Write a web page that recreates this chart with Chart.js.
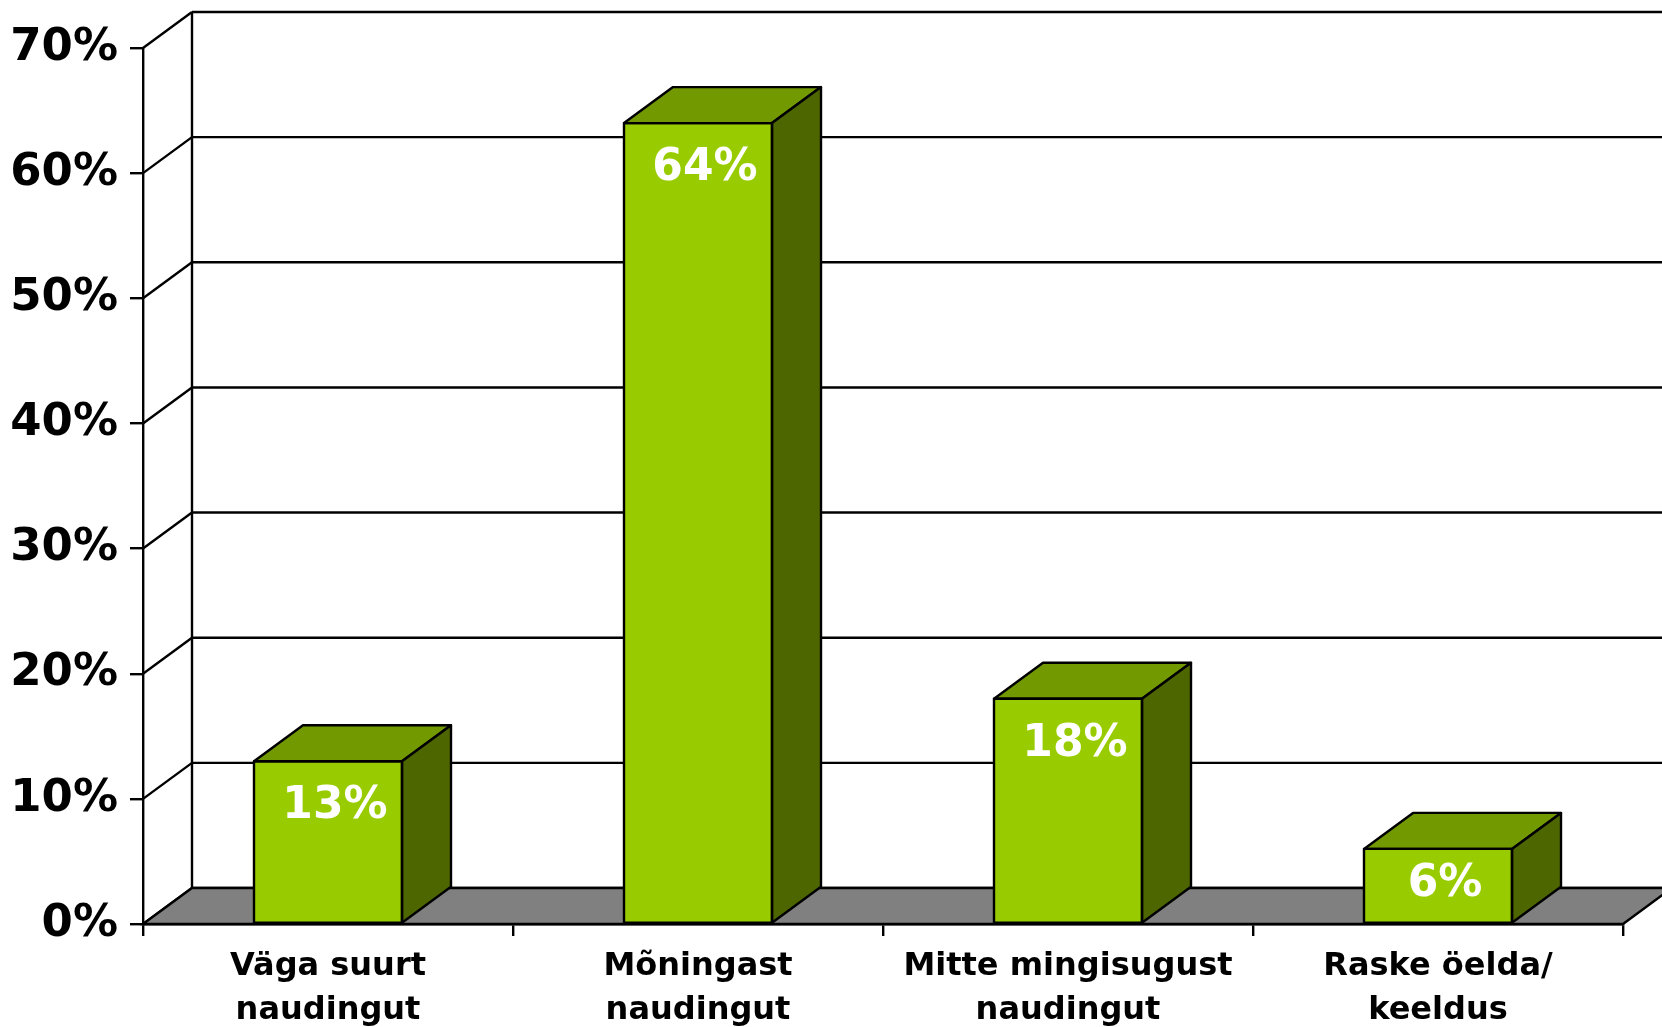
<!DOCTYPE html>
<html>
<head>
<meta charset="utf-8">
<script src="https://cdn.jsdelivr.net/npm/chart.js@4"></script>
<style>
    html, body { margin: 0; padding: 0; background: #fff; overflow: hidden; }
    #wrap { width: 1662px; height: 1027px; }
</style>
</head>
<body>
<div id="wrap"><canvas id="mainChart"></canvas></div>
<script>
const categories = [
    ["Väga suurt", "naudingut"],
    ["Mõningast", "naudingut"],
    ["Mitte mingisugust", "naudingut"],
    ["Raske öelda/", "keeldus"],
];
const values = [13, 64, 18, 6];
const percentTicks = [0, 10, 20, 30, 40, 50, 60, 70];

const FRONT = "#99CC00";
const TOP = "#739900";
const SIDE = "#4D6600";
const DX = 49, DY = -36;   // 3D depth offset
const LW = 2.4;

function line(ctx, x1, y1, x2, y2) {
    ctx.beginPath();
    ctx.moveTo(x1, y1);
    ctx.lineTo(x2, y2);
    ctx.stroke();
}

function poly(ctx, pts, fill) {
    ctx.beginPath();
    ctx.moveTo(pts[0][0], pts[0][1]);
    pts.slice(1).forEach(p => ctx.lineTo(p[0], p[1]));
    ctx.closePath();
    ctx.fillStyle = fill;
    ctx.fill();
    ctx.stroke();
}

const depthPlugin = {
    id: "depth",
    beforeDatasetsDraw(chart) {
        const { ctx, chartArea: a, scales: { y } } = chart;
        ctx.save();
        ctx.lineWidth = LW;
        ctx.strokeStyle = "#000";

        // back wall + diagonal grid lines
        percentTicks.forEach(v => {
            const py = y.getPixelForValue(v);
            line(ctx, a.left, py, a.left + DX, py + DY);
            line(ctx, a.left + DX, py + DY, a.right + DX, py + DY);
        });
        line(ctx, a.left + DX, y.getPixelForValue(70) + DY, a.left + DX, a.bottom + DY);

        // floor
        poly(ctx, [
            [a.left, a.bottom],
            [a.right, a.bottom],
            [a.right + DX, a.bottom + DY],
            [a.left + DX, a.bottom + DY],
        ], "#808080");
        ctx.restore();
    },
    afterDatasetsDraw(chart) {
        const { ctx } = chart;
        const meta = chart.getDatasetMeta(0);
        ctx.save();
        ctx.lineWidth = LW;
        ctx.strokeStyle = "#000";
        ctx.lineJoin = "round";
        meta.data.forEach((bar, i) => {
            const { x, y, base, width } = bar.getProps(["x", "y", "base", "width"], true);
            const x0 = x - width / 2, x1 = x + width / 2;
            poly(ctx, [[x0, y], [x1, y], [x1 + DX, y + DY], [x0 + DX, y + DY]], TOP);
            poly(ctx, [[x1, y], [x1 + DX, y + DY], [x1 + DX, base + DY], [x1, base]], SIDE);
            ctx.strokeRect(x0, y, width, base - y);

            // value label
            const cy = Math.min(y + 41, (y + base) / 2 - 6);
            ctx.fillStyle = "#fff";
            ctx.font = "bold 44px 'DejaVu Sans'";
            ctx.textAlign = "center";
            ctx.textBaseline = "alphabetic";
            ctx.fillText(values[i] + "%", x + 7, cy + 16);
        });
        ctx.restore();
    }
};

new Chart(document.getElementById("mainChart"), {
    type: "bar",
    data: {
        labels: categories,
        datasets: [{
            data: values,
            backgroundColor: FRONT,
            borderWidth: 0,
            barPercentage: 0.4,
            categoryPercentage: 1.0,
        }]
    },
    options: {
        responsive: true,
        maintainAspectRatio: false,
        animation: false,
        layout: { padding: { top: 48, right: 39, left: 0, bottom: 0 } },
        plugins: {
            legend: { display: false },
            tooltip: { enabled: false }
        },
        scales: {
            x: {
                grid: {
                    display: true,
                    drawOnChartArea: false,
                    drawTicks: true,
                    tickLength: 12,
                    color: "#000",
                    lineWidth: LW,
                    offset: true
                },
                border: { display: true, color: "#000", width: LW },
                ticks: {
                    color: "#000",
                    padding: 9,
                    maxRotation: 0,
                    autoSkip: false,
                    font: { family: "'DejaVu Sans'", size: 32, weight: "bold", lineHeight: 1.36 }
                },
                afterFit: s => { s.height = 103; }
            },
            y: {
                min: 0,
                max: 70,
                afterBuildTicks: s => { s.ticks = percentTicks.map(v => ({ value: v })); },
                grid: {
                    display: true,
                    drawOnChartArea: false,
                    drawTicks: true,
                    tickLength: 13,
                    color: "#000",
                    lineWidth: LW
                },
                border: { display: true, color: "#000", width: LW },
                ticks: {
                    color: "#000",
                    padding: 12,
                    callback: v => v + "%",
                    font: { family: "'DejaVu Sans'", size: 45, weight: "bold" }
                },
                afterFit: s => { s.width = 143; }
            }
        }
    },
    plugins: [depthPlugin]
});
</script>
</body>
</html>
